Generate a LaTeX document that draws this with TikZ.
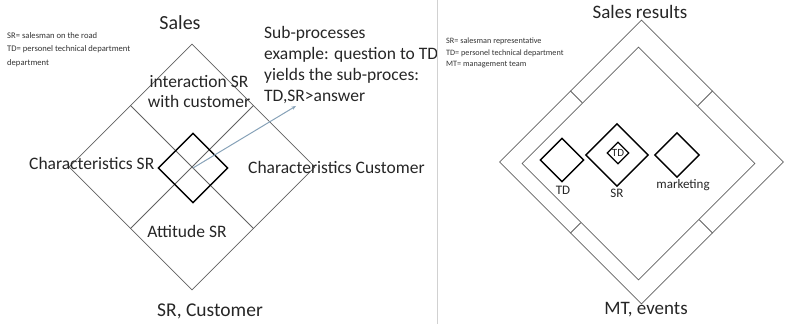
\documentclass[tikz,border=0pt]{standalone}
\usepackage{fontspec}
\setmainfont{Carlito}
\usetikzlibrary{shapes.geometric,calc,arrows.meta}
\definecolor{pointerblue}{RGB}{135,162,184}
\begin{document}
\begin{tikzpicture}[x=1pt,y=-1pt,
  frame/.style={draw=black!62, line width=0.75pt, shape=diamond, aspect=1, inner sep=0pt},
  thin/.style={draw=black!62, line width=0.75pt},
  bolddia/.style={draw=black, line width=1.4pt, shape=diamond, aspect=1, inner sep=0pt},
  big/.style={font=\fontsize{19.5}{23}\selectfont, text=black!85, inner sep=0pt},
  mid/.style={font=\fontsize{17.5}{21}\selectfont, text=black!85, inner sep=0pt},
  note/.style={font=\fontsize{8.6}{13.5}\selectfont, text=black!80, inner sep=0pt, align=left},
  noteR/.style={font=\fontsize{8.2}{11.8}\selectfont, text=black!80, inner sep=0pt, align=left},
  lab/.style={font=\fontsize{13}{15}\selectfont, text=black!85, inner sep=0pt},
  pointer/.style={draw=pointerblue, line width=1pt, -{Stealth[length=4.5pt,width=3.5pt]}}
]
\useasboundingbox (0,0) rectangle (786,324);

% ---------- left diagram ----------
\node[frame, minimum size=246pt] (L) at (192,167) {};
\draw[thin] (L.north west) -- (L.south east);
\draw[thin] (L.north east) -- (L.south west);
\node[bolddia, minimum size=70pt] (C) at (193,168) {};
\coordinate (tip) at (296,106);
\draw[pointer] (C.center) -- (tip);

\node[big, font=\fontsize{20}{24}\selectfont] (sales) at (180,23) {Sales};
\node[big] (src) at (210,311) {SR, Customer};
\node[mid, align=center, font=\fontsize{17.5}{20}\selectfont] (inter) at (199,92) {interaction SR\\with customer};
\node[mid, anchor=west] (csr) at (29,163) {Characteristics SR};
\node[mid, anchor=west] (ccu) at (248,167) {Characteristics Customer};
\node[mid] (att) at (187,231) {Attitude SR};
\node[note, anchor=north west] (legL) at (7,32) {SR= salesman on the road\\TD= personel technical department\\department};
\node[mid, anchor=north west, align=left, font=\fontsize{17.5}{21.2}\selectfont] (sub) at (264,26) {Sub-processes\\example: question to TD\\yields the sub-proces:\\TD,SR>answer};

% ---------- separator ----------
\coordinate (sepT) at (437,0);
\coordinate (sepB) at (437,324);
\draw[draw=black!18, line width=0.8pt] (sepT) -- (sepB);

% ---------- right diagram ----------
\node[frame, minimum size=284pt] (O) at (641.5,162) {};
\node[frame, minimum size=233pt] (I) at (638.5,163.5) {};
\draw[thin] (O.north west) -- ($(I.north)!(O.north west)!(I.west)$);
\draw[thin] (O.north east) -- ($(I.north)!(O.north east)!(I.east)$);
\draw[thin] (O.south west) -- ($(I.south)!(O.south west)!(I.west)$);
\draw[thin] (O.south east) -- ($(I.south)!(O.south east)!(I.east)$);

\node[bolddia, minimum size=44pt] (dTD) at (562,160) {};
\node[bolddia, minimum size=63pt] (dSR) at (617,155) {};
\node[bolddia, line width=1.2pt, minimum size=22pt] (dTDin) at (618,153) {};
\node[lab, font=\fontsize{11}{13}\selectfont] (tTDin) at (dTDin) {TD};
\node[bolddia, minimum size=45pt] (dMk) at (677,155) {};
\node[lab] (tTD) at (563,190) {TD};
\node[lab] (tSR) at (617,193) {SR};
\node[lab] (tMk) at (683,185) {marketing};

\node[big, font=\fontsize{19}{23}\selectfont] (sres) at (640,12) {Sales results};
\node[big, font=\fontsize{19}{23}\selectfont] (mte) at (646,310) {MT, events};
\node[noteR, anchor=north west] (legR) at (446,37.5) {SR= salesman representative\\TD= personel technical department\\MT= management team};
\end{tikzpicture}
\end{document}
